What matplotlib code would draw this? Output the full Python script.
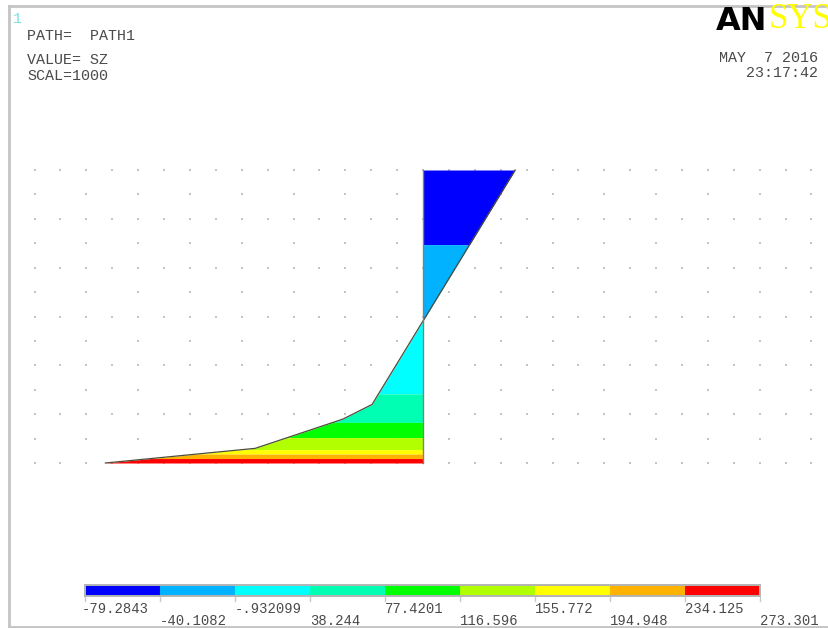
import numpy as np
import matplotlib
matplotlib.use('Agg')
import matplotlib.pyplot as plt
from matplotlib.colors import ListedColormap, BoundaryNorm
import matplotlib.transforms as mtransforms

# Path data: normalised distance along PATH1 (0 = bottom node) and SZ value
path_dist = [0.0, 0.05, 0.15, 0.2, 1.0]
sz_values = [273.301, 144.4, 68.8, 43.8, -79.2843]

# Contour levels and ANSYS band colours
levels = [-79.2843, -40.1082, -0.932099, 38.244, 77.4201,
          116.596, 155.772, 194.948, 234.125, 273.301]
level_labels = ['-79.2843', '-40.1082', '-.932099', '38.244', '77.4201',
                '116.596', '155.772', '194.948', '234.125', '273.301']
band_colors = ['#0000FF', '#00B2FF', '#00FFFF', '#00FFB2', '#00FF00',
               '#B2FF00', '#FFFF00', '#FFB200', '#FF0000']

W, H = 829, 628
fig = plt.figure(figsize=(W / 100, H / 100), dpi=100)
fig.patch.set_facecolor('white')

mono = 'Liberation Mono'
txt_col = '#4a4a4a'


def fx(x):
    return x / W


def fy(y):
    return 1 - y / H


# main axes over the whole figure, laid out so the path sits where ANSYS put it
ax = fig.add_axes([0, 0, 1, 1])
ax.set_axis_off()
px_per_val = 1.162
px_per_dist = 293.0
x0, y0 = 423.0, 463.0
ax.set_xlim(x0 / px_per_val, (x0 - W) / px_per_val)
ax.set_ylim(-(H - y0) / px_per_dist, y0 / px_per_dist)

# dotted grid
col_step = 25.9 / px_per_val
cols = np.arange(-15, 16) * col_step
for r in range(13):
    d = r / 12
    cs = cols if r % 2 == 0 else cols[::2]
    ax.scatter(cs, np.full(len(cs), d), s=1.0, color='#c4c4c4', marker='s',
               linewidths=0, zorder=1)

# colour bands between the path line and the profile
dist = np.array(path_dist)
vals = np.array(sz_values)
order = np.argsort(vals)
for i in range(9):
    lo, hi = levels[i], levels[i + 1]
    d_lo = np.interp(lo, vals[order], dist[order])
    d_hi = np.interp(hi, vals[order], dist[order])
    a, b = sorted([d_lo, d_hi])
    inner = dist[(dist > a) & (dist < b)]
    ds = np.concatenate([[a], inner, [b]])
    vs = np.interp(ds, dist, vals)
    ax.fill_betweenx(ds, 0, vs, color=band_colors[i], linewidth=0, zorder=2)

ax.plot(vals, dist, color='#4d4d3a', lw=0.9, zorder=3)
ax.plot([0, 0], [0, 1], color='#808080', lw=1.0, zorder=3)

# frame
fig.add_artist(plt.Line2D([fx(9), fx(9)], [fy(6), fy(627)], color='#c4c4c4', lw=2))
fig.add_artist(plt.Line2D([fx(9), fx(W)], [fy(6), fy(6)], color='#c4c4c4', lw=2))
fig.add_artist(plt.Line2D([fx(9), fx(W)], [fy(627), fy(627)], color='#c4c4c4', lw=2))

# header text
fig.text(fx(13), fy(19), '1', color='#7fe0e0', fontsize=11, family=mono, va='center')
fig.text(fx(27), fy(36), 'PATH=  PATH1', color=txt_col, fontsize=10.8, family=mono, va='center')
fig.text(fx(27), fy(60), 'VALUE= SZ', color=txt_col, fontsize=10.8, family=mono, va='center')
fig.text(fx(27), fy(76), 'SCAL=1000', color=txt_col, fontsize=10.8, family=mono, va='center')
fig.text(fx(818), fy(58), 'MAY  7 2016', color=txt_col, fontsize=10.8, family=mono,
         va='center', ha='right')
fig.text(fx(818), fy(73), '23:17:42', color=txt_col, fontsize=10.8, family=mono,
         va='center', ha='right')

# ANSYS logo
fig.text(fx(716), fy(21), 'AN', color='black', fontsize=23, family='DejaVu Sans',
         fontweight='heavy', va='center', ha='left')
fig.text(fx(769), fy(20), 'SYS', color='#FFFF00', fontsize=25, family='Liberation Serif',
         va='center', ha='left')

# legend bar
cax = fig.add_axes([fx(85), fy(596), (760 - 85) / W, 11 / H])
cmap = ListedColormap(band_colors)
cax.pcolormesh(np.arange(10), [0, 1], np.arange(9).reshape(1, 9), cmap=cmap,
               norm=BoundaryNorm(np.arange(10) - 0.5, 9))
cax.set_xlim(0, 9)
cax.set_ylim(0, 1)
cax.set_xticks([])
cax.set_yticks([])
for s in cax.spines.values():
    s.set_color('#b4b4b4')
    s.set_linewidth(1.4)

trans = mtransforms.blended_transform_factory(cax.transData, fig.transFigure)
for i, lab in enumerate(level_labels):
    fig.add_artist(plt.Line2D([i, i], [fy(597), fy(601)], color='#c8c8c8', lw=1,
                              transform=trans))
    yy = 609 if i % 2 == 0 else 621
    dx = -3 if i == 0 else 0
    fig.text(fx(85 + i * 75 + dx), fy(yy), lab, color=txt_col, fontsize=10,
             family=mono, va='center', ha='left')

fig.savefig('out.png', dpi=100, facecolor='white')
